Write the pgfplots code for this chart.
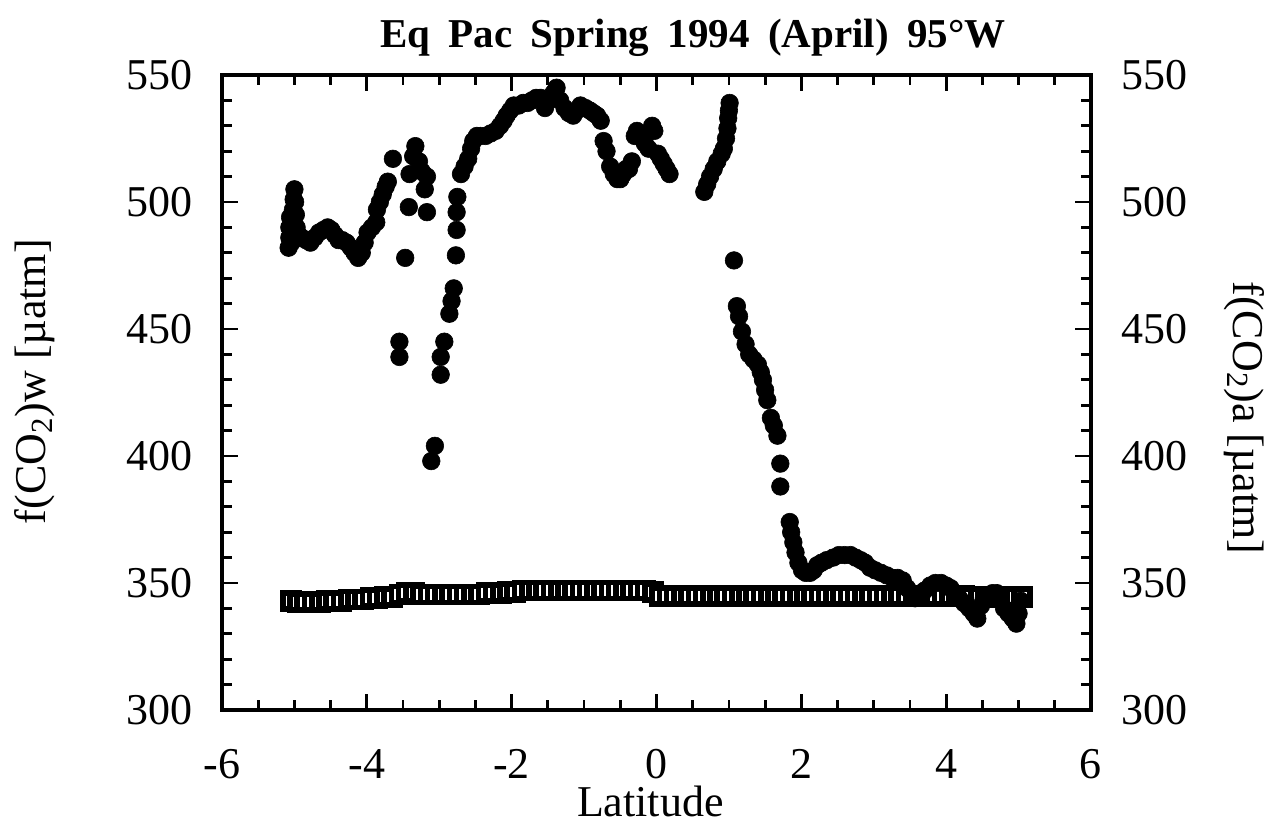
\documentclass[border=0pt]{standalone}
\usepackage{fontspec}
\setmainfont{Liberation Serif}
\usepackage{pgfplots}
\pgfplotsset{compat=1.18}

\pgfplotstableread{
lat val
-5.05 343.0
-4.95 342.5
-4.85 342.5
-4.75 342.5
-4.65 342.5
-4.55 343.0
-4.45 343.0
-4.35 343.0
-4.25 343.5
-4.15 343.5
-4.05 343.5
-3.95 344.0
-3.85 344.0
-3.75 344.5
-3.65 344.5
-3.55 345.5
-3.45 346.0
-3.35 346.0
-3.25 345.5
-3.15 345.5
-3.05 345.5
-2.95 345.5
-2.85 345.5
-2.75 345.5
-2.65 345.5
-2.55 345.5
-2.45 345.5
-2.35 346.0
-2.25 346.0
-2.15 346.0
-2.05 346.5
-1.95 346.5
-1.85 347.0
-1.75 347.0
-1.65 347.0
-1.55 347.0
-1.45 347.0
-1.35 347.0
-1.25 347.0
-1.15 347.0
-1.05 347.0
-0.95 347.0
-0.85 347.0
-0.75 347.0
-0.65 347.0
-0.55 347.0
-0.45 347.0
-0.35 347.0
-0.25 347.0
-0.15 347.0
-0.05 346.5
0.05 345.0
0.15 345.0
0.25 345.0
0.35 345.0
0.45 345.0
0.55 345.0
0.65 345.0
0.75 345.0
0.85 345.0
0.95 345.0
1.05 345.0
1.15 345.0
1.25 345.0
1.35 345.0
1.45 345.0
1.55 345.0
1.65 345.0
1.75 345.0
1.85 345.0
1.95 345.0
2.05 345.0
2.15 345.0
2.25 345.0
2.35 345.0
2.45 345.0
2.55 345.0
2.65 345.0
2.75 345.0
2.85 345.0
2.95 345.0
3.05 345.0
3.15 345.0
3.25 345.0
3.35 345.0
3.45 345.0
3.55 345.0
3.65 345.0
3.75 345.0
3.85 345.0
3.95 345.0
4.05 345.0
4.15 345.0
4.25 345.0
4.35 344.5
4.45 344.5
4.55 344.5
4.65 344.5
4.75 344.5
4.85 344.5
4.95 344.5
5.05 344.5
}\airtable

\pgfplotstableread{
lat val
-5.08 482
-5.07 486
-5.07 490
-5.06 494
-5.05 487
-5.04 484
-5.03 492
-5.02 497
-5.01 501
-5.00 505
-4.99 500
-4.98 495
-4.97 490
-4.94 487
-4.90 486
-4.84 485
-4.78 484
-4.72 486
-4.66 488
-4.60 489
-4.54 490
-4.49 489
-4.44 487
-4.39 485
-4.34 485
-4.28 484
-4.22 482
-4.17 480
-4.12 478
-4.07 480
-4.03 484
-3.99 488
-3.93 490
-3.87 492
-3.86 497
-3.82 500
-3.78 503
-3.74 506
-3.71 508
-3.64 517
-3.55 445
-3.55 439
-3.47 478
-3.42 498
-3.41 511
-3.36 518
-3.33 522
-3.28 516
-3.24 512
-3.20 505
-3.17 510
-3.17 496
-3.11 398
-3.06 404
-2.98 439
-2.98 432
-2.93 445
-2.86 456
-2.83 461
-2.80 466
-2.77 479
-2.76 489
-2.76 496
-2.75 502
-2.70 511
-2.65 514
-2.60 517
-2.56 521
-2.53 524
-2.48 526
-2.43 526
-2.36 526
-2.29 527
-2.22 528
-2.16 530
-2.11 532
-2.07 534
-2.02 536
-1.97 538
-1.90 538
-1.84 539
-1.78 539
-1.72 540
-1.66 541
-1.60 541
-1.54 537
-1.48 540
-1.42 543
-1.38 545
-1.33 540
-1.27 537
-1.21 535
-1.15 534
-1.10 536
-1.05 538
-0.98 537
-0.92 536
-0.87 535
-0.82 534
-0.77 532
-0.73 524
-0.69 520
-0.64 514
-0.59 511
-0.54 509
-0.50 509
-0.46 511
-0.42 513
-0.38 513
-0.34 516
-0.30 526
-0.27 528
-0.20 525
-0.16 523
-0.11 521
-0.06 530
-0.03 528
0.02 519
0.06 517
0.10 515
0.14 513
0.18 511
0.66 504
0.70 507
0.74 510
0.79 513
0.84 516
0.90 519
0.93 521
0.96 525
0.98 529
0.99 533
1.00 536
1.01 539
1.07 477
1.11 459
1.14 455
1.18 449
1.23 444
1.28 440
1.34 438
1.40 436
1.44 433
1.47 430
1.50 426
1.53 422
1.58 415
1.62 412
1.67 408
1.71 397
1.71 388
1.84 374
1.86 370
1.89 366
1.92 362
1.96 358
2.01 355
2.06 354
2.12 354
2.17 355
2.22 357
2.28 358
2.35 359
2.44 360
2.52 361
2.60 361
2.68 361
2.75 360
2.82 359
2.88 358
2.95 356
3.02 355
3.10 354
3.18 353
3.26 352
3.33 352
3.40 351
3.46 348
3.52 346
3.57 344
3.62 345
3.70 347
3.78 349
3.85 350
3.93 350
4.00 349
4.06 348
4.12 346
4.18 344
4.25 342
4.32 340
4.38 338
4.43 336
4.48 341
4.52 344
4.58 345
4.64 346
4.70 346
4.75 343
4.80 340
4.86 338
4.92 336
4.97 334
5.00 338
5.03 343
}\watertable

\begin{document}
\begin{tikzpicture}
\useasboundingbox (-111pt,-57.5pt) rectangle (529pt,355pt);
\begin{axis}[
  at={(0pt,0pt)}, anchor=south west,
  scale only axis, width=434.5pt, height=317.5pt,
  xmin=-6, xmax=6, ymin=300, ymax=550,
  clip=false,
  xtick={-6,-4,-2,0,2,4,6}, xticklabels={-6,-4,-2,0,2,4,6},
  ytick={300,350,400,450,500,550}, yticklabels={300,350,400,450,500,550},
  minor x tick num=3, minor y tick num=4,
  tick align=inside, xtick pos=both, ytick pos=both,
  major tick length=8pt, minor tick length=5pt,
  axis line style={line width=1.6pt},
  every tick/.style={black, line width=1.4pt},
  tick label style={font=\fontsize{22}{26}\selectfont},
  xticklabel style={anchor=base, inner sep=0pt, yshift=-34pt},
  yticklabel style={anchor=east, inner sep=0pt, xshift=-14.5pt},
]
\addplot[only marks, mark=square*, mark size=4pt,
  mark options={fill=white, draw=black, line width=2.8pt}] table[x=lat, y=val] {\airtable};
\addplot[only marks, mark=*, mark size=4.4pt,
  mark options={fill=black, draw=black, line width=0.3pt}] table[x=lat, y=val] {\watertable};
\node[font=\bfseries\fontsize{20.5}{24}\selectfont] at (axis description cs:0.542,1.058)
  {Eq\hspace{0.45em}Pac\hspace{0.45em}Spring\hspace{0.45em}1994\hspace{0.45em}(April)\hspace{0.45em}95°W};
\node[font=\fontsize{22}{26}\selectfont, anchor=base, inner sep=0pt] at (axis description cs:0.493,-0.168) {Latitude};
\node[font=\fontsize{22}{26}\selectfont, rotate=90] at (axis description cs:-0.215,0.517) {f(CO\textsubscript{2})w [µatm]};
\node[font=\fontsize{22}{26}\selectfont, rotate=-90] at (axis description cs:1.177,0.46) {f(CO\textsubscript{2})a [µatm]};
\end{axis}
\begin{axis}[
  at={(0pt,0pt)}, anchor=south west,
  scale only axis, width=434.5pt, height=317.5pt,
  xmin=-6, xmax=6, ymin=300, ymax=550,
  xtick=\empty, ytick={300,350,400,450,500,550}, yticklabels={300,350,400,450,500,550},
  yticklabel pos=right, major tick length=0pt, minor y tick num=0,
  axis line style={draw=none},
  tick label style={font=\fontsize{22}{26}\selectfont},
  yticklabel style={anchor=west, inner sep=0pt, xshift=15pt},
]
\end{axis}
\end{tikzpicture}
\end{document}
